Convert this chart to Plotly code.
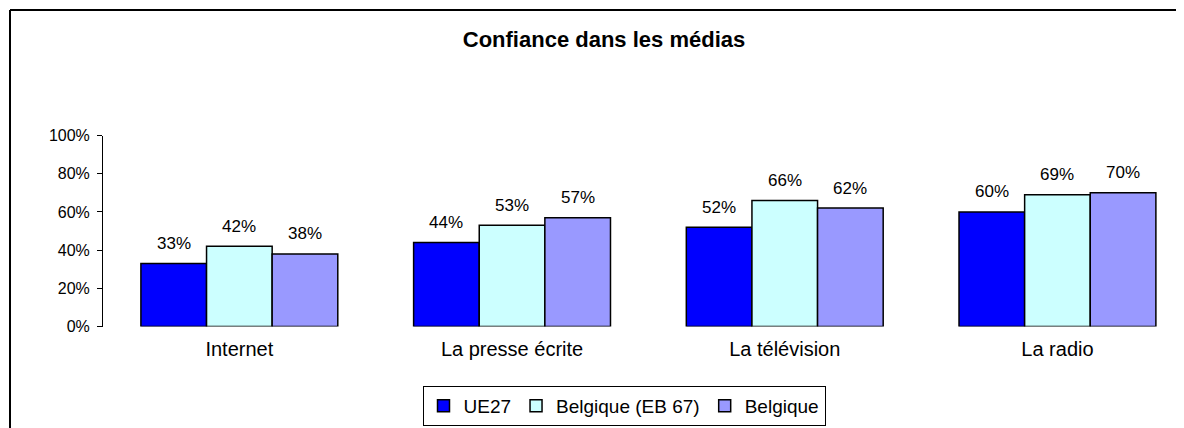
import plotly.graph_objects as go

categories = ["Internet", "La presse écrite", "La télévision", "La radio"]
series_names = ["UE27", "Belgique (EB 67)", "Belgique"]
ue27 = [33, 44, 52, 60]
belgique_eb67 = [42, 53, 66, 69]
belgique = [38, 57, 62, 70]
y_ticks = [0, 20, 40, 60, 80, 100]
y_tick_labels = ["0%", "20%", "40%", "60%", "80%", "100%"]
title_text = "Confiance dans les médias"

colors = ["#0000FF", "#CCFFFF", "#9999FF"]
all_series = [ue27, belgique_eb67, belgique]

# page body has an 8px margin; figure sized to fill the rest of the viewport
OX, OY = 8, 8
W, H = 1184 - OX, 428 - OY
FONT = "Liberation Sans, Arial, sans-serif"


def px_x(p):
    return (p - OX) / W


def px_y(p):
    return 1 - (p - OY) / H


fig = go.Figure()
for name, vals, col in zip(series_names, all_series, colors):
    fig.add_trace(go.Bar(
        x=categories, y=vals, name=name,
        marker=dict(color=col, line=dict(color="black", width=1.5)),
        hoverinfo="x+y+name",
    ))

bargap = 0.278
bw = (1 - bargap) / 3
annotations = []
for si, vals in enumerate(all_series):
    for ci, v in enumerate(vals):
        annotations.append(dict(
            x=ci + (si - 1) * bw, y=v, xref="x", yref="y",
            text=f"{v}%", showarrow=False, yanchor="middle", yshift=20,
            font=dict(family=FONT, size=17, color="black"),
        ))

# reference pixel geometry
x_left = 103
cat_w = 272.7
x_right_val = -0.5 + (1184 - x_left) / cat_w
y_bot = 326.5
y_top = 135.5

fig.update_layout(
    width=W, height=H,
    margin=dict(l=0, r=0, t=0, b=0, autoexpand=False),
    paper_bgcolor="white", plot_bgcolor="white",
    barmode="group", bargap=bargap, bargroupgap=0,
    font=dict(family=FONT, size=16, color="black"),
    title=dict(text=f"<b>{title_text}</b>", x=px_x(604), xanchor="center",
               y=px_y(39), yanchor="middle",
               font=dict(family=FONT, size=22, color="black")),
    xaxis=dict(domain=[px_x(x_left), 1], range=[-0.5, x_right_val],
               showline=False, showgrid=False, zeroline=False, ticks="",
               ticklabelstandoff=8,
               tickfont=dict(family=FONT, size=20, color="black")),
    yaxis=dict(domain=[px_y(y_bot), px_y(y_top)], range=[0, 100],
               tickmode="array", tickvals=y_ticks, ticktext=y_tick_labels,
               showline=True, linecolor="black", linewidth=1,
               ticks="outside", ticklen=5, tickcolor="black",
               ticklabelstandoff=4,
               showgrid=False, zeroline=False,
               tickfont=dict(family=FONT, size=16, color="black")),
    legend=dict(orientation="h", xref="container", yref="container",
                x=px_x(624), xanchor="center",
                y=px_y(406), yanchor="middle",
                bordercolor="black", borderwidth=1,
                itemwidth=30,
                font=dict(family=FONT, size=19, color="black"),
                traceorder="normal"),
    annotations=annotations,
    shapes=[
        dict(type="line", xref="paper", yref="paper",
             x0=px_x(10), x1=px_x(10), y0=0, y1=px_y(10),
             line=dict(color="black", width=2), layer="above"),
        dict(type="line", xref="paper", yref="paper",
             x0=px_x(10), x1=1, y0=px_y(10), y1=px_y(10),
             line=dict(color="black", width=2), layer="above"),
    ],
)

fig.write_html("out.html")
